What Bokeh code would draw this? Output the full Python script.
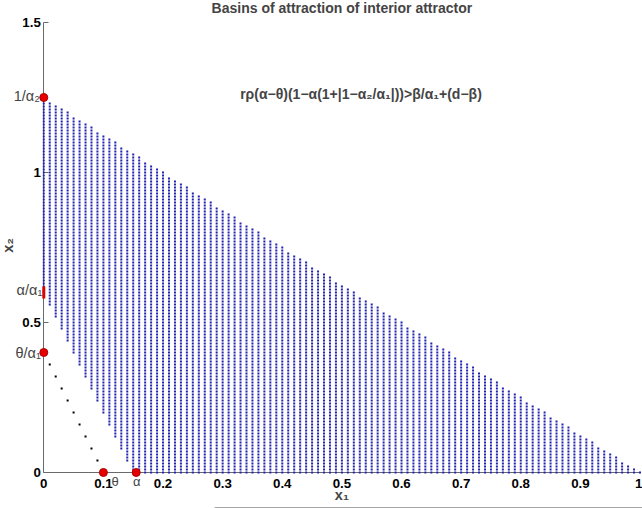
import numpy as np
from math import pi
from bokeh.plotting import figure
from bokeh.models import Range1d, FixedTicker, Label, ColumnDataSource, LinearAxis
from bokeh.embed import file_html
from bokeh.resources import INLINE

# ---- values ----
inv_alpha2 = 1.25          # 1/alpha2 : upper boundary intercept on x2 (reaches 0 at x1 = 1)
alpha_over_alpha1 = 0.6    # alpha/alpha1 : lower boundary intercept on x2
alpha_val = 0.15           # alpha : lower boundary intercept on x1
theta_val = 0.1            # theta
theta_over_alpha1 = 0.4    # theta/alpha1
alpha_mark = 0.155         # position of the alpha marker / label on x1 axis
grid_step = 0.01

x_ticks = [0, 0.1, 0.2, 0.3, 0.4, 0.5, 0.6, 0.7, 0.8, 0.9, 1]
x_tick_labels = ["0", "0.1", "0.2", "0.3", "0.4", "0.5", "0.6", "0.7", "0.8", "0.9", "1"]
y_ticks = [0, 0.5, 1, 1.5]
y_tick_labels = ["0", "0.5", "1", "1.5"]

# black dots along the theta line
black_x = [0.01, 0.02, 0.03, 0.04, 0.05, 0.06, 0.07, 0.08, 0.09]
black_y = [0.36, 0.32, 0.28, 0.24, 0.20, 0.16, 0.12, 0.08, 0.04]

# red equilibrium points
red_x = [0, 0, 0.1, 0.155]
red_y = [1.25, 0.4, 0, 0]

title_text = "Basins of attraction of interior attractor"
formula_text = "rρ(α−θ)(1−α(1+|1−α₂/α₁|))>β/α₁+(d−β)"

# ---- basin grid: sample points of the 0.01 grid inside the basin ----
gx = np.round(np.arange(0, 101) * grid_step, 2)
gy = np.round(np.arange(0, 151) * grid_step, 2)
GX, GY = np.meshgrid(gx, gy)
upper = inv_alpha2 * (1 - GX)
lower = alpha_over_alpha1 * (1 - GX / alpha_val)
mask = (GY <= upper + 1e-9) & (GY >= lower - 1e-9)
blue_src = ColumnDataSource(dict(x=GX[mask], y=GY[mask]))

FONT = "Liberation Sans"
SUBFONT = "Liberation Sans, DejaVu Sans"
AX_COL = "#6a6a6a"

W, H = 642, 508
p = figure(width=W, height=H, output_backend="svg", toolbar_location=None,
           x_range=Range1d(-0.0726, 1.0042), y_range=Range1d(-0.12, 1.5733),
           min_border=0)
p.outline_line_color = None
p.grid.visible = False
p.background_fill_color = "white"
p.border_fill_color = "white"

p.xaxis.ticker = FixedTicker(ticks=x_ticks)
p.xaxis.major_label_overrides = {t: l for t, l in zip(x_ticks, x_tick_labels)}
p.yaxis.ticker = FixedTicker(ticks=y_ticks)
p.yaxis.major_label_overrides = {t: l for t, l in zip(y_ticks, y_tick_labels)}
p.xaxis.fixed_location = 0
p.yaxis.fixed_location = 0
p.xaxis.bounds = (0, 1)
p.yaxis.bounds = (0, 1.5)
for ax in (p.xaxis, p.yaxis):
    ax.axis_line_color = AX_COL
    ax.major_tick_line_color = AX_COL
    ax.minor_tick_line_color = None
    ax.major_label_text_font = FONT
    ax.major_label_text_font_style = "bold"
    ax.major_label_text_font_size = "13.3px"
    ax.major_label_text_color = "black"
    ax.major_tick_out = 0
    ax.level = "underlay"
p.xaxis.major_tick_in = 0
p.yaxis.major_tick_in = 5
p.xaxis.major_label_standoff = 7
p.yaxis.major_label_standoff = 3

# faint extra rule at the very bottom of the picture
bottom_rule = LinearAxis(fixed_location=-0.1167, bounds=(0.286, 1.01),
                         ticker=FixedTicker(ticks=[]), major_tick_in=0, major_tick_out=0,
                         minor_tick_line_color=None, major_label_text_font_size="0px",
                         axis_line_color="#a8a8a8")
p.add_layout(bottom_rule, "below")

# glyphs
p.scatter("x", "y", source=blue_src, marker="square", size=2,
          fill_color="#2222b0", line_color=None)
p.scatter(black_x, black_y, marker="square", size=2, fill_color="black", line_color=None)
p.segment(x0=[0], y0=[alpha_over_alpha1 - 0.02], x1=[0], y1=[alpha_over_alpha1 + 0.02],
          line_color="#e00000", line_width=3)
p.scatter(red_x, red_y, marker="circle", size=8, fill_color="#e60000", line_color="#b00000")

# texts
p.add_layout(Label(x=0.5, y=1.548, text=title_text, text_align="center",
                   text_baseline="middle", text_font=FONT, text_font_style="bold",
                   text_font_size="14px"))
p.add_layout(Label(x=0.532, y=1.263, text=formula_text, text_align="center",
                   text_baseline="middle", text_font=SUBFONT, text_font_style="bold",
                   text_font_size="14px"))
lab = dict(text_font=SUBFONT, text_font_size="14.5px", text_baseline="middle")
p.add_layout(Label(x=0, y=inv_alpha2, x_offset=-4, y_offset=1, text="1/α₂", text_align="right", **lab))
p.add_layout(Label(x=0, y=alpha_over_alpha1, x_offset=-1.5, y_offset=2, text="α/α₁", text_align="right", **lab))
p.add_layout(Label(x=0, y=theta_over_alpha1, x_offset=-3, y_offset=-1, text="θ/α₁", text_align="right", **lab))
sym = dict(text_font=FONT, text_font_size="13px", text_baseline="middle", text_align="center")
p.add_layout(Label(x=theta_val, y=0, x_offset=11.6, y_offset=-9, text="θ", **sym))
p.add_layout(Label(x=alpha_mark, y=0, x_offset=0.5, y_offset=-9, text="α", **sym))
p.add_layout(Label(x=0.5, y=0, y_offset=-23, text="x₁", text_align="center", text_font=SUBFONT,
                   text_font_style="bold", text_font_size="14.5px", text_baseline="middle"))
p.add_layout(Label(x=0, y=0.757, x_offset=-36, text="x₂", text_align="center", angle=pi / 2,
                   text_font=SUBFONT, text_font_style="bold", text_font_size="14.5px",
                   text_baseline="middle"))

open("out.html", "w").write(file_html(p, INLINE))
